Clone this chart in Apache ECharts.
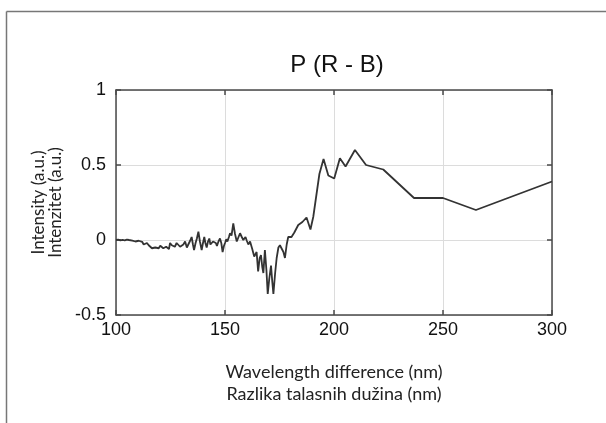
<!DOCTYPE html>
<html>
<head>
<meta charset="utf-8">
<script src="https://cdn.jsdelivr.net/npm/echarts@6/dist/echarts.min.js"></script>
<style>
html,body{margin:0;padding:0;background:#fff;}
#chart{width:606px;height:423px;}
</style>
</head>
<body>
<div id="chart"></div>
<script>
var titleText = "P (R - B)";
var xAxisTitle = "Wavelength difference (nm)\nRazlika talasnih dužina (nm)";
var yAxisTitle = "Intensity (a.u.)\nIntenzitet (a.u.)";
var xTicks = [100, 150, 200, 250, 300];
var yTicks = [-0.5, 0, 0.5, 1];

var wavelength = [
100,101,102,103,104,105,106,106.5,107.5,108.9,109.7,110.4,111.2,112,112.7,113.5,114.2,115,115.8,116.5,
117.3,118,118.8,119.6,120.3,121.1,121.7,122.3,123,123.7,124.3,124.8,125.6,126.3,127,127.8,128.6,129.4,130.1,130.9,
131.7,132.5,133.2,134,134.7,135.3,135.8,136.5,137.1,137.8,138.5,139.3,139.9,140.5,141,141.6,142.2,142.8,143.3,143.8,
144.5,145.3,145.8,146.3,147,147.7,148.3,148.9,149.5,150,150.6,151.1,151.8,152.3,153,153.8,154.6,155.4,156.2,156.9,
157.7,158.4,159.4,160,160.7,161.5,162.5,163.4,164,164.5,165.2,165.9,166.5,167.1,167.6,168.3,169,169.6,170.3,171.1,
171.7,172.2,173,173.7,174.5,175.2,176,176.8,177.5,178.3,179,180.5,181.8,183.6,185.5,187.4,189.2,190.5,193.3,195.2,
197.4,200.1,202.7,205.3,209.6,214.7,222.6,236.7,250,265.1,300
];
var intensity = [
0,0.002,-0.003,0.001,-0.002,0.003,0,0.007,-0.004,-0.01,0,-0.005,-0.018,-0.012,-0.03,-0.022,-0.02,-0.035,-0.03,-0.055,
-0.045,-0.05,-0.045,-0.055,-0.038,-0.04,-0.055,-0.067,-0.045,-0.04,-0.06,-0.02,-0.035,-0.025,-0.045,-0.02,-0.01,-0.045,-0.055,-0.03,
-0.01,-0.05,-0.04,-0.005,0.02,-0.03,-0.067,-0.02,0.01,0.055,-0.01,-0.067,-0.02,0.02,-0.02,-0.05,-0.01,0.01,-0.03,-0.04,
-0.01,0,-0.02,-0.04,-0.01,0.01,-0.02,-0.08,-0.04,-0.02,0.005,-0.01,0.02,0.045,0.03,0.11,0.04,-0.01,0.02,0.045,
0.02,0,0.02,-0.005,-0.03,-0.01,-0.06,-0.11,-0.1,-0.08,-0.21,-0.12,-0.1,-0.18,-0.22,-0.067,-0.2,-0.36,-0.26,-0.17,
-0.28,-0.36,-0.22,-0.12,-0.05,-0.035,-0.04,-0.08,-0.12,-0.03,0.02,0.02,0.05,0.1,0.12,0.15,0.07,0.155,0.44,0.54,
0.43,0.41,0.545,0.49,0.6,0.5,0.47,0.28,0.28,0.2,0.39
];

var seriesData = wavelength.map(function (x, i) { return [x, intensity[i]]; });

var chart = echarts.init(document.getElementById('chart'), null, {renderer: 'canvas'});
var tickFont = {fontFamily: 'Liberation Sans, Arial, sans-serif', fontSize: 18, color: '#111'};
var axisLineStyle = {color: '#4a4a4a', width: 1.5};

chart.setOption({
  animation: false,
  backgroundColor: '#fff',
  title: {
    text: titleText,
    left: 332, top: 48, textAlign: 'center',
    textStyle: {fontFamily: 'Liberation Sans, Arial, sans-serif', fontSize: 24, fontWeight: 'normal', color: '#111'}
  },
  graphic: [
    {type: 'line', shape: {x1: 6.5, y1: 11.5, x2: 606, y2: 11.5}, style: {stroke: '#777', lineWidth: 1.5}},
    {type: 'line', shape: {x1: 6.5, y1: 11.5, x2: 6.5, y2: 423}, style: {stroke: '#777', lineWidth: 1.5}}
  ],
  grid: {left: 116, top: 90, width: 436, height: 225, show: false},
  xAxis: [{
    type: 'value', min: 100, max: 300, interval: 50, position: 'bottom',
    axisLine: {show: true, onZero: false, lineStyle: axisLineStyle},
    axisTick: {show: true, inside: true, length: 5, lineStyle: axisLineStyle},
    axisLabel: Object.assign({margin: 6, customValues: xTicks}, tickFont),
    splitLine: {show: true, lineStyle: {color: '#dcdcdc', width: 1}},
    name: xAxisTitle, nameLocation: 'middle', nameGap: 46,
    nameTextStyle: {fontFamily: 'Lato, Open Sans, sans-serif', fontSize: 18, lineHeight: 22, color: '#222'}
  }, {
    type: 'value', min: 100, max: 300, interval: 50, position: 'top',
    axisLine: {show: true, onZero: false, lineStyle: axisLineStyle},
    axisTick: {show: true, inside: true, length: 5, lineStyle: axisLineStyle},
    axisLabel: {show: false}, splitLine: {show: false}
  }],
  yAxis: [{
    type: 'value', min: -0.5, max: 1, interval: 0.5, position: 'left',
    axisLine: {show: true, onZero: false, lineStyle: axisLineStyle},
    axisTick: {show: true, inside: true, length: 5, lineStyle: axisLineStyle},
    axisLabel: Object.assign({margin: 10, customValues: yTicks, formatter: function (v) { return String(v); }}, tickFont),
    splitLine: {show: true, lineStyle: {color: '#dcdcdc', width: 1}},
    name: yAxisTitle, nameLocation: 'middle', nameGap: 51, nameRotate: 90,
    nameTextStyle: {fontFamily: 'Lato, Open Sans, sans-serif', fontSize: 17, lineHeight: 17, color: '#222'}
  }, {
    type: 'value', min: -0.5, max: 1, interval: 0.5, position: 'right',
    axisLine: {show: true, onZero: false, lineStyle: axisLineStyle},
    axisTick: {show: true, inside: true, length: 5, lineStyle: axisLineStyle},
    axisLabel: {show: false}, splitLine: {show: false}
  }],
  series: [{
    type: 'line', data: seriesData, xAxisIndex: 0, yAxisIndex: 0,
    showSymbol: false, symbol: 'none',
    lineStyle: {color: '#333', width: 1.8},
    clip: true
  }]
});
</script>
</body>
</html>
